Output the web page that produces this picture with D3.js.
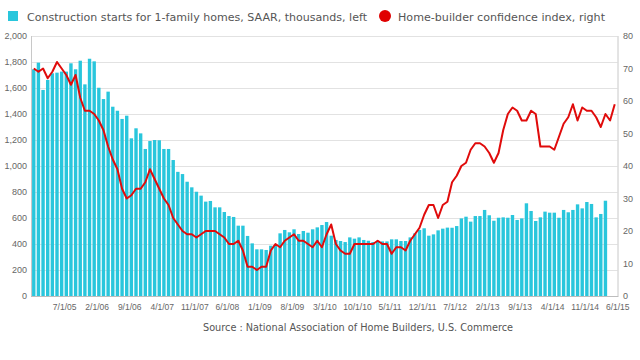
<!DOCTYPE html>
<html>
<head>
<meta charset="utf-8">
<script src="https://cdn.jsdelivr.net/npm/d3@7"></script>
<style>
  html, body { margin: 0; padding: 0; background: #fff; }
  svg { display: block; }
</style>
</head>
<body>
<svg id="chart" width="640" height="360"></svg>
<script>
// ---------- DATA ----------
const months = [
  "1/1/05","2/1/05","3/1/05","4/1/05","5/1/05","6/1/05","7/1/05","8/1/05","9/1/05","10/1/05","11/1/05","12/1/05",
  "1/1/06","2/1/06","3/1/06","4/1/06","5/1/06","6/1/06","7/1/06","8/1/06","9/1/06","10/1/06","11/1/06","12/1/06",
  "1/1/07","2/1/07","3/1/07","4/1/07","5/1/07","6/1/07","7/1/07","8/1/07","9/1/07","10/1/07","11/1/07","12/1/07",
  "1/1/08","2/1/08","3/1/08","4/1/08","5/1/08","6/1/08","7/1/08","8/1/08","9/1/08","10/1/08","11/1/08","12/1/08",
  "1/1/09","2/1/09","3/1/09","4/1/09","5/1/09","6/1/09","7/1/09","8/1/09","9/1/09","10/1/09","11/1/09","12/1/09",
  "1/1/10","2/1/10","3/1/10","4/1/10","5/1/10","6/1/10","7/1/10","8/1/10","9/1/10","10/1/10","11/1/10","12/1/10",
  "1/1/11","2/1/11","3/1/11","4/1/11","5/1/11","6/1/11","7/1/11","8/1/11","9/1/11","10/1/11","11/1/11","12/1/11",
  "1/1/12","2/1/12","3/1/12","4/1/12","5/1/12","6/1/12","7/1/12","8/1/12","9/1/12","10/1/12","11/1/12","12/1/12",
  "1/1/13","2/1/13","3/1/13","4/1/13","5/1/13","6/1/13","7/1/13","8/1/13","9/1/13","10/1/13","11/1/13","12/1/13",
  "1/1/14","2/1/14","3/1/14","4/1/14","5/1/14","6/1/14","7/1/14","8/1/14","9/1/14","10/1/14","11/1/14","12/1/14",
  "1/1/15","2/1/15","3/1/15","4/1/15","5/1/15","6/1/15"
];

// Single-family construction starts, SAAR, thousands (left axis), Jan 2005 - Apr 2015
const starts = [
  1744,1795,1585,1662,1713,1718,1726,1726,1790,1744,1810,1628,
  1825,1805,1602,1515,1572,1456,1425,1362,1387,1213,1290,1251,
  1131,1192,1200,1198,1131,1131,1046,955,938,879,836,802,
  772,726,731,682,682,646,615,608,541,541,462,405,
  359,359,354,387,392,482,508,490,513,477,500,487,
  513,528,546,569,464,431,423,415,451,441,451,431,
  425,415,425,420,420,436,436,423,423,451,482,508,
  521,464,474,505,518,526,525,538,597,610,572,615,
  615,662,621,579,602,605,602,623,585,597,713,654,
  577,605,649,641,641,602,662,644,662,705,674,723,
  708,605,631,733
];

// NAHB home-builder confidence index (right axis), Jan 2005 - Jun 2015
const hmi = [
  70,69,70,67,69,72,70,68,65,68,61,57,
  57,56,54,51,46,42,39,33,30,31,33,33,
  35,39,36,33,30,28,24,22,20,19,19,18,
  19,20,20,20,19,18,16,16,17,14,9,9,
  8,9,9,14,16,15,17,18,19,17,17,16,
  15,17,15,19,22,16,14,13,13,16,16,16,
  16,16,17,16,16,13,15,15,14,17,19,21,
  25,28,28,24,28,29,35,37,40,41,45,47,
  47,46,44,41,44,51,56,58,57,54,54,57,
  56,46,46,46,45,49,53,55,59,54,58,57,
  57,55,52,56,54,59
];

const xTickLabels = ["7/1/05","2/1/06","9/1/06","4/1/07","11/1/07","6/1/08","1/1/09","8/1/09",
  "3/1/10","10/1/10","5/1/11","12/1/11","7/1/12","2/1/13","9/1/13","4/1/14","11/1/14","6/1/15"];
const leftTicks = [0,200,400,600,800,1000,1200,1400,1600,1800,2000];
const rightTicks = [0,10,20,30,40,50,60,70,80];

const legendLabels = ["Construction starts for 1-family homes, SAAR, thousands, left",
                      "Home-builder confidence index, right"];
const sourceText = "Source : National Association of Home Builders, U.S. Commerce";

// ---------- LAYOUT ----------
const W = 640, H = 360;
const plot = { left: 31, right: 617.5, top: 36, bottom: 296 };
const barColor = "#29c6dc";
const lineColor = "#e00b0b";
const gridColor = "#e2e2e2";
const axisColor = "#c8c8c8";
const textColor = "#666";

const svg = d3.select("#chart");
svg.append("rect").attr("width", W).attr("height", H).attr("fill", "#fff");

const x = d3.scaleBand().domain(months).range([plot.left, plot.right])
  .paddingInner(0.27).paddingOuter(0.23);
const bw = x.bandwidth();
const yL = d3.scaleLinear().domain([0, 2000]).range([plot.bottom, plot.top]);
const yR = d3.scaleLinear().domain([0, 80]).range([plot.bottom, plot.top]);

// gridlines
svg.append("g").selectAll("line").data(leftTicks.filter(d => d > 0)).join("line")
  .attr("x1", plot.left).attr("x2", plot.right)
  .attr("y1", d => Math.round(yL(d)) + 0.5).attr("y2", d => Math.round(yL(d)) + 0.5)
  .attr("stroke", gridColor).attr("stroke-width", 1);

// bars
svg.append("g").selectAll("rect").data(starts).join("rect")
  .attr("x", (d, i) => x(months[i]))
  .attr("width", bw)
  .attr("y", d => yL(d))
  .attr("height", d => plot.bottom - yL(d))
  .attr("fill", barColor);

// frame lines
svg.append("line").attr("x1", plot.left + 0.5).attr("x2", plot.left + 0.5)
  .attr("y1", plot.top).attr("y2", plot.bottom).attr("stroke", axisColor);
svg.append("line").attr("x1", plot.right + 0.5).attr("x2", plot.right + 0.5)
  .attr("y1", plot.top).attr("y2", plot.bottom).attr("stroke", axisColor);
svg.append("line").attr("x1", plot.left).attr("x2", plot.right + 1)
  .attr("y1", plot.bottom + 0.5).attr("y2", plot.bottom + 0.5).attr("stroke", "#bdbdbd");

// line
const line = d3.line()
  .x((d, i) => x(months[i]) + bw / 2)
  .y(d => yR(d));
svg.append("path").datum(hmi)
  .attr("d", line)
  .attr("fill", "none")
  .attr("stroke", lineColor)
  .attr("stroke-width", 2)
  .attr("stroke-linejoin", "round");

// left axis labels
const fmt = d3.format(",");
svg.append("g").selectAll("text").data(leftTicks).join("text")
  .attr("x", 27).attr("y", d => yL(d)).attr("dy", "0.35em")
  .attr("text-anchor", "end")
  .attr("font-family", "Liberation Sans, Arial, sans-serif")
  .attr("font-size", 9).attr("fill", textColor)
  .text(d => fmt(d));

// right axis labels
svg.append("g").selectAll("text").data(rightTicks).join("text")
  .attr("x", 623).attr("y", d => yR(d)).attr("dy", "0.35em")
  .attr("text-anchor", "start")
  .attr("font-family", "Liberation Sans, Arial, sans-serif")
  .attr("font-size", 9).attr("fill", textColor)
  .text(d => d);

// x labels
svg.append("g").selectAll("text").data(xTickLabels).join("text")
  .attr("x", d => x(d) + bw / 2 + 3).attr("y", 310)
  .attr("text-anchor", "middle")
  .attr("font-family", "Liberation Sans, Arial, sans-serif")
  .attr("font-size", 8.5).attr("fill", textColor)
  .text(d => d);

// legend
svg.append("rect").attr("x", 8).attr("y", 11).attr("width", 10).attr("height", 10).attr("fill", barColor);
svg.append("text").attr("x", 27).attr("y", 20.5)
  .attr("font-family", "DejaVu Sans, sans-serif").attr("font-size", 11)
  .attr("fill", "#555")
  .attr("textLength", 340).attr("lengthAdjust", "spacingAndGlyphs")
  .text(legendLabels[0]);
svg.append("circle").attr("cx", 385).attr("cy", 16).attr("r", 6).attr("fill", "#e00000");
svg.append("text").attr("x", 398).attr("y", 20.5)
  .attr("font-family", "DejaVu Sans, sans-serif").attr("font-size", 11)
  .attr("fill", "#555")
  .attr("textLength", 207).attr("lengthAdjust", "spacingAndGlyphs")
  .text(legendLabels[1]);

// source
svg.append("text").attr("x", 203).attr("y", 331)
  .attr("font-family", "DejaVu Sans, sans-serif").attr("font-size", 10)
  .attr("fill", "#555")
  .attr("textLength", 310).attr("lengthAdjust", "spacingAndGlyphs")
  .text(sourceText);
</script>
</body>
</html>
